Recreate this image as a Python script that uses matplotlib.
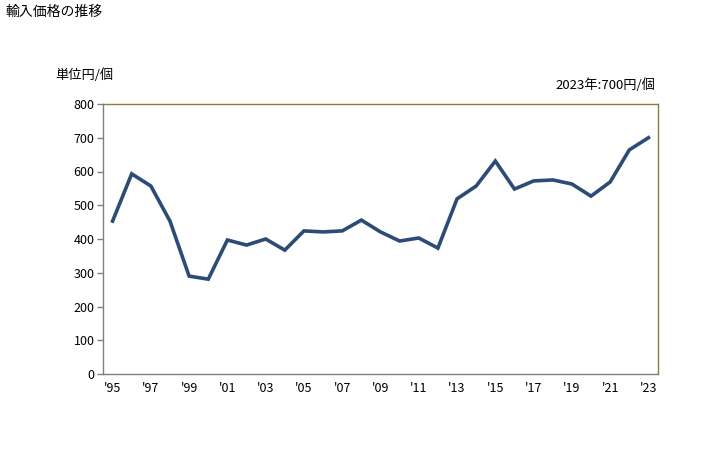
import matplotlib
matplotlib.use('Agg')
import matplotlib.pyplot as plt

plt.rcParams['font.family'] = ['Noto Sans CJK JP', 'DejaVu Sans']

# data
years = list(range(1995, 2024))
prices = [453, 593, 557, 453, 290, 281, 397, 382, 400, 367,
          424, 421, 424, 456, 421, 394, 403, 373, 519, 557,
          631, 548, 572, 575, 563, 527, 569, 664, 700]
tick_years = list(range(1995, 2024, 2))
tick_labels = ["'%02d" % (y % 100) for y in tick_years]

fig = plt.figure(figsize=(7.28, 4.5), dpi=100)
ax = fig.add_axes([103 / 728, 76 / 450, 555 / 728, 270 / 450])

ax.plot(years, prices, color='#2B4C76', linewidth=2.6, solid_joinstyle='miter')

ax.set_xlim(1994.5, 2023.5)
ax.set_ylim(0, 800)
ax.set_yticks(range(0, 801, 100))
ax.set_xticks(tick_years)
ax.set_xticklabels(tick_labels)

ax.spines['left'].set_color('#808080')
ax.spines['bottom'].set_color('#808080')
ax.spines['top'].set_color('#8C7F3E')
ax.spines['right'].set_color('#8C7F3E')
for s in ax.spines.values():
    s.set_linewidth(1.0)

ax.tick_params(axis='y', length=4, width=1, color='#808080', labelsize=9, pad=2)
ax.tick_params(axis='x', length=0, labelsize=9, pad=6)

fig.text(5 / 728, 1 - 12 / 450, '輸入価格の推移', fontsize=10, va='center', ha='left')
fig.text(55 / 728, 1 - 75 / 450, '単位円/個', fontsize=9.5, va='center', ha='left')
fig.text(655 / 728, 1 - 85 / 450, '2023年:700円/個', fontsize=9.5, va='center', ha='right')

fig.savefig('out.png', dpi=100)
